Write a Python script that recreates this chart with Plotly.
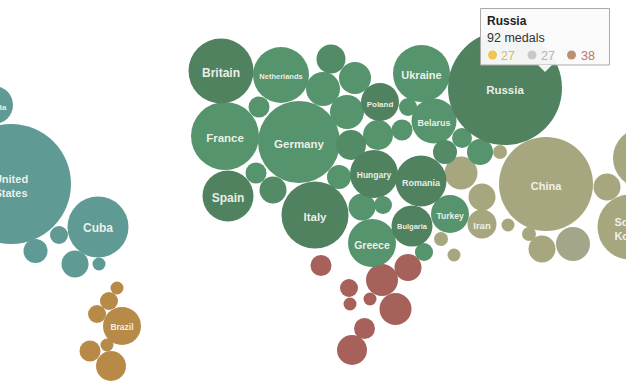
import plotly.graph_objects as go

# ---- data: bubble centres (x, y), radii and labels per region ----
americas_names = ["Canada", "United<br>States", "Cuba", "", "", "", ""]
americas_x = [-6, 11, 98, 59, 35.5, 75, 99]
americas_y = [105, 184, 227, 235, 251, 264, 264]
americas_r = [19, 60, 30.5, 9, 12, 13.5, 6.5]

brazil_names = ["Brazil", "", "", "", "", "", ""]
brazil_x = [122, 117, 109, 97, 107, 90, 111]
brazil_y = [326, 288, 301, 314, 345, 351, 366]
brazil_r = [19, 6.5, 9, 9, 6.5, 10.5, 15]

africa_names = ["", "", "", "", "", "", "", "", ""]
africa_x = [321, 349, 350, 370, 382, 408, 395.5, 364.5, 352]
africa_y = [265.5, 288, 304, 299, 280, 267.5, 309, 328.5, 350]
africa_r = [10.5, 9, 6.5, 6.5, 16, 13.5, 16, 10.5, 15]

europe_dark_names = ["Britain", "Spain", "Italy", "Poland", "Hungary", "Romania",
                     "Bulgaria", "Russia"]
europe_dark_x = [221, 228, 315, 380, 374, 421, 412, 505]
europe_dark_y = [71, 196, 215, 102, 174, 181, 226, 88]
europe_dark_r = [32.5, 25.5, 33.5, 19, 24, 25.5, 20.5, 57]

europe_mid_names = ["", "", "", ""]
europe_mid_x = [445, 331, 273, 351]
europe_mid_y = [152, 59, 190, 145]
europe_mid_r = [12, 14.5, 13.5, 15]

europe_names = ["Netherlands", "France", "Germany", "Ukraine", "Belarus", "Turkey", "Greece",
                "", "", "", "", "", "", "", "", "", "", "", "", "", ""]
europe_x = [281, 225, 299, 421.5, 434, 450, 372,
            259, 256, 339, 355, 323, 347, 378, 402, 408, 462, 480, 362, 383, 424]
europe_y = [75, 136, 142, 73.5, 121, 214, 243,
            107, 173, 177, 78, 89, 112, 135, 130, 107, 138, 152, 207, 205, 252]
europe_r = [28, 34, 41, 28.5, 22.5, 19, 24,
            10.5, 10.5, 12, 16, 17, 17, 15, 10.5, 9, 10, 13, 13.5, 9, 9]

asia_names = ["China", "Iran", "South<br>Korea", "", "", "", "", "", "", "", "", "", ""]
asia_x = [546, 482, 630, 643, 461, 482, 441, 454, 508, 500, 607, 529, 542]
asia_y = [184, 224, 227, 158, 173, 197, 239, 255, 225, 152, 187, 234, 249]
asia_r = [47, 14.5, 32.5, 30, 16.5, 13.5, 7, 6.5, 6.5, 7, 13.5, 7, 13.5]
asia2_x = [573]
asia2_y = [244]
asia2_r = [17]

tooltip_title = "Russia"
tooltip_total = "92 medals"
tooltip_values = [27, 27, 38]

# ---- styles ----
label_sizes = {"Britain": 12, "Netherlands": 7.5, "France": 11.5, "Germany": 11.5, "Spain": 12,
               "Italy": 11.5, "Poland": 8, "Ukraine": 11, "Belarus": 9, "Russia": 11.5,
               "Hungary": 8.5, "Romania": 9, "Turkey": 8.5, "Bulgaria": 7.5, "Greece": 10.5,
               "China": 11, "Iran": 9.5, "South<br>Korea": 11, "Canada": 8,
               "United<br>States": 11, "Cuba": 12, "Brazil": 8.5}
label_shift_x = {"Canada": -2}
label_shift_y = {"Netherlands": 2, "Bulgaria": 1, "Hungary": 2, "Brazil": 2, "Cuba": 2}

fig = go.Figure()
label_x, label_y, label_text = [], [], []


def add_group(names, xs, ys, rs, color):
    fig.add_trace(go.Scatter(
        x=xs, y=ys, mode="markers",
        marker=dict(size=[2 * r for r in rs], sizemode="diameter", color=color,
                    opacity=1, line=dict(width=0)),
        hoverinfo="skip", showlegend=False))
    for n, x, y in zip(names, xs, ys):
        if n:
            label_text.append(n)
            label_x.append(x + label_shift_x.get(n, 0))
            label_y.append(y + label_shift_y.get(n, 3))


add_group(americas_names, americas_x, americas_y, americas_r, "#5f9a95")
add_group(brazil_names, brazil_x, brazil_y, brazil_r, "#b78b47")
add_group(africa_names, africa_x, africa_y, africa_r, "#a5615a")
add_group(asia_names, asia_x, asia_y, asia_r, "#a7a77f")
add_group([""], asia2_x, asia2_y, asia2_r, "#a3a688")
add_group(europe_names, europe_x, europe_y, europe_r, "#55946c")
add_group(europe_mid_names, europe_mid_x, europe_mid_y, europe_mid_r, "#528b66")
add_group(europe_dark_names, europe_dark_x, europe_dark_y, europe_dark_r, "#508260")

fig.add_trace(go.Scatter(
    x=label_x, y=label_y, mode="text", text=label_text, textposition="middle center",
    textfont=dict(family="Liberation Sans", color="rgba(245,247,240,0.95)",
                  size=[label_sizes.get(n, 8) for n in label_text], weight="bold"),
    hoverinfo="skip", showlegend=False))

dot_x = [492.5, 532, 571.5]
dot_colors = ["#f0c550", "#c9c9c9", "#bb8f72"]
value_x = [499, 539, 579]
value_colors = ["#d8b95e", "#b4b4b4", "#b7766a"]

shapes = [
    dict(type="rect", x0=480.5, y0=8.5, x1=609.5, y1=65, layer="above",
         line=dict(color="#aaaaaa", width=1), fillcolor="rgba(250,250,250,0.96)"),
    dict(type="path", path="M 538 65 L 545 72 L 552 65 Z", layer="above",
         line=dict(width=0), fillcolor="rgba(250,250,250,0.96)"),
]
for dx, dc in zip(dot_x, dot_colors):
    shapes.append(dict(type="circle", x0=dx - 4.5, x1=dx + 4.5, y0=50.5, y1=59.5, layer="above",
                       line=dict(width=0), fillcolor=dc))

annotations = [
    dict(x=485, y=21, text="<b>%s</b>" % tooltip_title, font=dict(size=12, color="#222222")),
    dict(x=485, y=38, text=tooltip_total, font=dict(size=12.5, color="#333333")),
]
for vx, v, vc in zip(value_x, tooltip_values, value_colors):
    annotations.append(dict(x=vx, y=55.5, text=str(v), font=dict(size=12.5, color=vc)))
for a in annotations:
    a.update(showarrow=False, xanchor="left", yanchor="middle", xref="x", yref="y")
    a["font"]["family"] = "Liberation Sans"

fig.update_layout(
    width=626, height=386, margin=dict(l=0, r=0, t=0, b=0),
    paper_bgcolor="white", plot_bgcolor="white",
    xaxis=dict(range=[0, 626], visible=False, fixedrange=True),
    yaxis=dict(range=[386, 0], visible=False, fixedrange=True),
    shapes=shapes, annotations=annotations, hovermode=False,
)
fig.write_html("out.html", config=dict(displayModeBar=False),
               post_script="document.body.style.margin='0';document.body.style.overflow='hidden';")
